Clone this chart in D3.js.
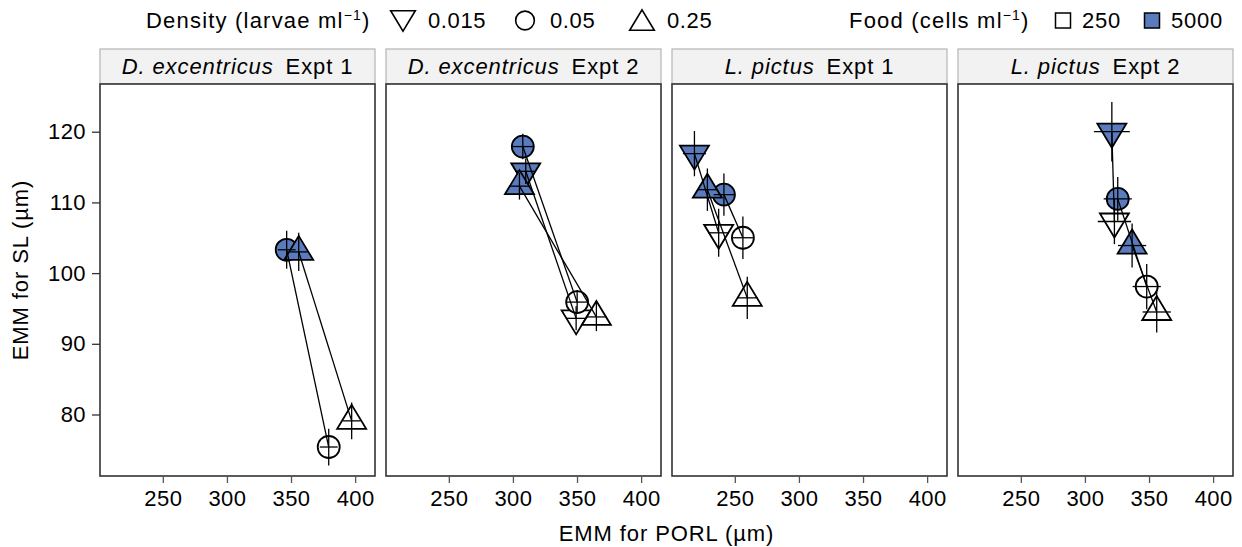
<!DOCTYPE html>
<html>
<head>
<meta charset="utf-8">
<script src="https://cdnjs.cloudflare.com/ajax/libs/d3/7.8.5/d3.min.js"></script>
<style>
    body { margin: 0; background: #fff; }
    text { font-family: "Liberation Sans", Arial, Helvetica, sans-serif; fill: #000; }
</style>
</head>
<body>
<svg id="chart" width="1242" height="547"></svg>
<script>
// Panels
const panelSpecies = ['D. excentricus', 'D. excentricus', 'L. pictus', 'L. pictus'];
const panelExpt = ['Expt 1', 'Expt 2', 'Expt 1', 'Expt 2'];

// Factor levels
const densityLevels = ['0.015', '0.05', '0.25'];
const foodLevels = ['250', '5000'];

// Tick labels
const xTicks = [250, 300, 350, 400];
const yTicks = [80, 90, 100, 110, 120];

// One entry per point (estimated marginal means with CIs)
const ptPanel   = [0, 0, 0, 0,   1, 1, 1, 1, 1, 1,   2, 2, 2, 2, 2, 2,   3, 3, 3, 3, 3, 3];
const ptDensity = ['0.05', '0.25', '0.05', '0.25',
                   '0.015', '0.05', '0.25', '0.015', '0.05', '0.25',
                   '0.015', '0.05', '0.25', '0.015', '0.05', '0.25',
                   '0.015', '0.05', '0.25', '0.015', '0.05', '0.25'];
const ptFood    = ['5000', '5000', '250', '250',
                   '5000', '5000', '5000', '250', '250', '250',
                   '5000', '5000', '5000', '250', '250', '250',
                   '5000', '5000', '5000', '250', '250', '250'];
const ptPorl    = [346.6, 356.0, 379.4, 397.3,
                   310.0, 307.7, 305.1, 349.3, 350.1, 365.1,
                   218.5, 241.5, 228.6, 237.4, 256.3, 259.7,
                   321.0, 325.6, 336.8, 323.0, 348.2, 356.0];
const ptSl      = [103.3, 103.0, 75.4, 79.1,
                   114.4, 117.9, 112.3, 93.6, 95.9, 93.8,
                   116.9, 111.1, 111.8, 105.7, 105.0, 96.5,
                   120.0, 110.5, 103.9, 107.3, 98.1, 94.5];
const ptPorlCI  = [7, 7, 7, 7,
                   8, 8, 8, 8, 8, 8,
                   9, 8, 8, 8, 8, 8,
                   14, 11, 11, 13, 11, 11];
const ptSlCI    = [2.7, 2.7, 2.6, 2.6,
                   1.8, 1.8, 1.9, 1.7, 1.7, 2.0,
                   3.2, 3.0, 3.0, 3.4, 3.0, 3.0,
                   4.2, 3.1, 3.1, 3.2, 3.2, 2.9];

const points = ptPanel.map((p, i) => ({
    panel: p, density: ptDensity[i], food: ptFood[i],
    porl: ptPorl[i], sl: ptSl[i], porlCI: ptPorlCI[i], slCI: ptSlCI[i]
}));

const blue = '#5a7cbf';
const fillFor = f => f === '5000' ? blue : '#fff';

// symbol paths: triangles centred on their centroid
function symbolPath(density, s) {
    s = s || 1;
    const hw = 14.5 * s, a = 16 * s, b = 8 * s, r = 11 * s;
    if (density === '0.25') return `M0,${-a}L${hw},${b}L${-hw},${b}Z`;
    if (density === '0.015') return `M0,${a}L${hw},${-b}L${-hw},${-b}Z`;
    return `M${-r},0A${r},${r} 0 1,1 ${r},0A${r},${r} 0 1,1 ${-r},0Z`;
}

const svg = d3.select('#chart');

const panelW = 275, panelStep = 286, firstLeft = 100;
const plotTop = 84, plotBottom = 476, stripTop = 49;
const fs = 22;

const y = d3.scaleLinear().domain([71.3, 126.75]).range([plotBottom, plotTop]);
const x = d3.scaleLinear().domain([201, 415.5]).range([0, panelW]);

panelSpecies.forEach((sp, pi) => {
    const g = svg.append('g').attr('transform', `translate(${firstLeft + pi * panelStep},0)`);

    // strip
    g.append('rect')
        .attr('x', 0).attr('y', stripTop)
        .attr('width', panelW).attr('height', plotTop - stripTop)
        .attr('fill', '#f2f2f2').attr('stroke', '#b5b5b5').attr('stroke-width', 1.2);
    const st = g.append('text')
        .attr('x', panelW / 2).attr('y', 74)
        .attr('text-anchor', 'middle')
        .attr('font-size', fs)
        .attr('letter-spacing', 0.9);
    st.append('tspan').attr('font-style', 'italic').text(sp);
    st.append('tspan').text('\u2002' + panelExpt[pi]);

    // plot frame
    g.append('rect')
        .attr('x', 0).attr('y', plotTop)
        .attr('width', panelW).attr('height', plotBottom - plotTop)
        .attr('fill', '#fff').attr('stroke', '#333').attr('stroke-width', 1.6);

    // x axis
    const xa = g.append('g')
        .attr('transform', `translate(0,${plotBottom})`)
        .call(d3.axisBottom(x).tickValues(xTicks).tickSize(7).tickPadding(7));
    xa.select('.domain').remove();
    xa.selectAll('line').attr('stroke', '#555').attr('stroke-width', 1.3);
    xa.selectAll('text').attr('font-size', fs).attr('font-family', null).attr('letter-spacing', 0.4);

    const pts = points.filter(d => d.panel === pi);

    // symbols
    g.selectAll('path.sym')
        .data(pts)
        .enter().append('path')
        .attr('class', 'sym')
        .attr('transform', d => `translate(${x(d.porl)},${y(d.sl)})`)
        .attr('d', d => symbolPath(d.density))
        .attr('fill', d => fillFor(d.food))
        .attr('stroke', '#000')
        .attr('stroke-width', 1.8)
        .attr('stroke-linejoin', 'miter');

    // connecting lines between food levels of same density
    densityLevels.forEach(dl => {
        const hi = pts.find(d => d.density === dl && d.food === '5000');
        const lo = pts.find(d => d.density === dl && d.food === '250');
        if (!hi || !lo) return;
        g.append('line')
            .attr('x1', x(hi.porl)).attr('y1', y(hi.sl))
            .attr('x2', x(lo.porl)).attr('y2', y(lo.sl))
            .attr('stroke', '#000').attr('stroke-width', 1.3);
    });

    // error bars (cross)
    const eb = g.selectAll('g.eb').data(pts).enter().append('g').attr('class', 'eb');
    eb.append('line')
        .attr('x1', d => x(d.porl)).attr('x2', d => x(d.porl))
        .attr('y1', d => y(d.sl - d.slCI)).attr('y2', d => y(d.sl + d.slCI))
        .attr('stroke', '#000').attr('stroke-width', 1.3);
    eb.append('line')
        .attr('x1', d => x(d.porl - d.porlCI)).attr('x2', d => x(d.porl + d.porlCI))
        .attr('y1', d => y(d.sl)).attr('y2', d => y(d.sl))
        .attr('stroke', '#000').attr('stroke-width', 1.3);
});

// y axis on first panel
const ya = svg.append('g')
    .attr('transform', `translate(${firstLeft},0)`)
    .call(d3.axisLeft(y).tickValues(yTicks).tickSize(8).tickPadding(6));
ya.select('.domain').remove();
ya.selectAll('line').attr('stroke', '#333').attr('stroke-width', 1.3);
ya.selectAll('text').attr('font-size', fs).attr('font-family', null).attr('letter-spacing', 0.4);

// axis titles
svg.append('text')
    .attr('x', (firstLeft + firstLeft + 3 * panelStep + panelW) / 2)
    .attr('y', 541)
    .attr('text-anchor', 'middle')
    .attr('font-size', fs)
    .attr('letter-spacing', 0.9)
    .text('EMM for PORL (\u00b5m)');

svg.append('text')
    .attr('transform', 'translate(28,270) rotate(-90)')
    .attr('text-anchor', 'middle')
    .attr('font-size', fs)
    .attr('letter-spacing', 0.9)
    .text('EMM for SL (\u00b5m)');

// legend
const legY = 20.5, legBase = 28;
function legTitle(xpos, main) {
    const t = svg.append('text').attr('x', xpos).attr('y', legBase)
        .attr('font-size', fs).attr('letter-spacing', 1.2);
    t.append('tspan').text(main);
    t.append('tspan').attr('font-size', 14).attr('dy', -8).text('\u22121');
    t.append('tspan').attr('dy', 8).text(')');
}
legTitle(146, 'Density (larvae ml');
legTitle(849, 'Food (cells ml');

const densLegX = [403, 525, 642];
densityLevels.forEach((dl, i) => {
    svg.append('path')
        .attr('transform', `translate(${densLegX[i]},${legY + (dl === '0.05' ? 0 : (dl === '0.25' ? 3 : -3))})`)
        .attr('d', symbolPath(dl, 0.85))
        .attr('fill', '#fff').attr('stroke', '#000').attr('stroke-width', 1.6);
    svg.append('text')
        .attr('x', densLegX[i] + 25).attr('y', legBase)
        .attr('font-size', fs)
        .attr('letter-spacing', 0.6)
        .text(dl);
});

const foodLegX = [1063, 1152];
foodLevels.forEach((fl, i) => {
    svg.append('rect')
        .attr('x', foodLegX[i] - 7.5).attr('y', legY - 7.5)
        .attr('width', 15).attr('height', 15)
        .attr('fill', fillFor(fl)).attr('stroke', '#000').attr('stroke-width', 1.5);
    svg.append('text')
        .attr('x', foodLegX[i] + 19).attr('y', legBase)
        .attr('font-size', fs)
        .attr('letter-spacing', 0.8)
        .text(fl);
});
</script>
</body>
</html>
